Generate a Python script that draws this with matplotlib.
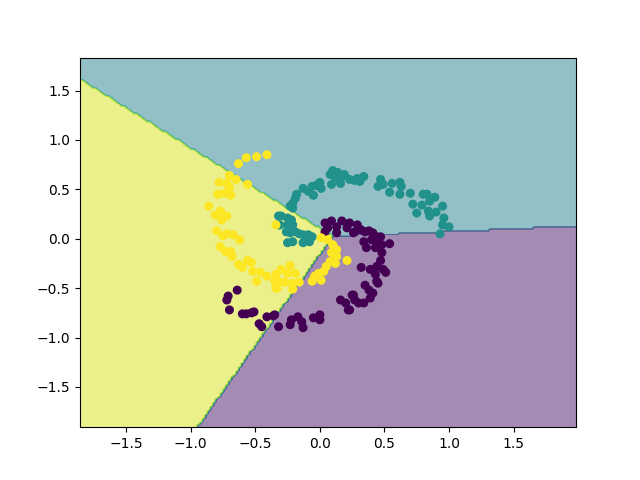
#!/usr/bin/env python3
# -*- coding: utf-8 -*-

'''Linear classifier decision regions on the 3-class spiral data.'''

##-Imports
import numpy as np
import matplotlib
matplotlib.use('Agg')
import matplotlib.pyplot as plt


##-Data
# class 0 (purple)
x0 = [-0.64, -0.71, -0.72, -0.70, -0.60, -0.57, -0.53, -0.51, -0.41, -0.36, -0.47, -0.45,
      0.04, 0.09, 0.17, 0.23, 0.29, 0.06, 0.13, 0.21, 0.27, 0.32, 0.38, 0.44, 0.04, 0.13, 0.26,
      0.16, 0.20, 0.25, 0.27, 0.22, -0.35, -0.32, -0.22, -0.17, -0.14, -0.13, -0.05, 0.00, 0.00, -0.23,
      0.35, 0.41, 0.47, 0.34, 0.40, 0.44, 0.48, 0.54, 0.36, 0.43, 0.48, 0.47, 0.32, 0.39, 0.44, 0.49,
      0.51, 0.43, 0.44, 0.45, 0.35, 0.38, 0.41, 0.26, 0.30, 0.34, 0.39, 0.23]
y0 = [-0.52, -0.58, -0.62, -0.72, -0.76, -0.76, -0.75, -0.74, -0.79, -0.78, -0.86, -0.89,
      0.16, 0.18, 0.18, 0.16, 0.14, 0.11, 0.12, 0.11, 0.07, 0.09, 0.08, 0.02, 0.07, 0.06, 0.06,
      -0.62, -0.65, -0.57, -0.62, -0.72, -0.77, -0.89, -0.82, -0.79, -0.84, -0.90, -0.80, -0.77, -0.82, -0.87,
      0.07, 0.06, 0.02, -0.03, -0.01, -0.06, -0.06, -0.05, -0.09, -0.09, -0.14, -0.22, -0.29, -0.31, -0.28, -0.31,
      -0.34, -0.36, -0.43, -0.45, -0.47, -0.52, -0.55, -0.57, -0.65, -0.65, -0.60, -0.72]

# class 1 (teal)
x1 = [-0.32, -0.32, 0.10, 0.14, 0.08, 0.19, 0.12, 0.16, 0.23, 0.29, 0.09, 0.16, 0.00, -0.03,
      -0.06, 0.01, -0.13, -0.09, -0.05, -0.18, -0.19, -0.21, -0.21, -0.23, -0.30, -0.25, -0.22,
      -0.31, -0.25, -0.21, -0.26, -0.19, -0.16, -0.13, -0.06, -0.23, -0.09, -0.21, -0.25, -0.13, -0.08,
      0.27, 0.31, 0.34, 0.47, 0.45, 0.49, 0.56, 0.62, 0.63, 0.54, 0.62, 0.70, 0.80, 0.83, 0.89,
      0.72, 0.79, 0.85, 0.95, 0.75, 0.84, 0.90, 0.85, 0.96, 0.95, 1.00, 0.93]
y1 = [0.23, 0.14, 0.69, 0.67, 0.65, 0.65, 0.62, 0.61, 0.60, 0.61, 0.55, 0.56, 0.57, 0.54,
      0.53, 0.51, 0.51, 0.48, 0.44, 0.45, 0.41, 0.36, 0.31, 0.33, 0.23, 0.21, 0.19,
      0.14, 0.14, 0.14, 0.07, 0.07, 0.05, 0.04, 0.02, 0.06, 0.04, -0.03, -0.04, -0.04, -0.03,
      0.59, 0.58, 0.63, 0.60, 0.53, 0.55, 0.56, 0.57, 0.53, 0.47, 0.45, 0.46, 0.45, 0.45, 0.42,
      0.35, 0.34, 0.38, 0.33, 0.26, 0.28, 0.27, 0.23, 0.21, 0.14, 0.12, 0.05]

# class 2 (yellow)
x2 = [-0.63, -0.57, -0.49, -0.41, -0.70, -0.78, -0.65, -0.72, -0.70, -0.56, -0.79, -0.74, -0.69,
      -0.86, -0.77, -0.81, -0.72, -0.76, -0.80, -0.75, -0.72, -0.67, -0.62, -0.77, -0.73, -0.69,
      -0.68, -0.63, -0.60, -0.56, -0.53, -0.52, -0.46, -0.41, -0.49, -0.35, -0.33, -0.34,
      0.01, 0.06, 0.10, 0.13, 0.09, 0.13, 0.08, 0.12, 0.21, 0.05, 0.03, -0.01, -0.04, 0.01, -0.06,
      -0.23, -0.30, -0.25, -0.19, -0.34, -0.32, -0.27, -0.21, -0.16, -0.34, -0.21]
y2 = [0.76, 0.82, 0.83, 0.85, 0.64, 0.57, 0.60, 0.56, 0.52, 0.55, 0.45, 0.46, 0.44,
      0.33, 0.28, 0.24, 0.23, 0.19, 0.08, 0.03, 0.05, 0.04, -0.01, -0.08, -0.13, -0.13,
      -0.18, -0.26, -0.29, -0.22, -0.24, -0.33, -0.34, -0.38, -0.43, -0.43, -0.50, 0.14,
      0.01, -0.01, -0.06, -0.11, -0.14, -0.18, -0.23, -0.25, -0.22, -0.28, -0.33, -0.35, -0.38, -0.42, -0.43,
      -0.27, -0.31, -0.35, -0.35, -0.36, -0.43, -0.44, -0.45, -0.44, -0.50, -0.51]

# estimated weights of the linear classifier (columns: class 0, 1, 2)
W = [[0.0, -0.086, -0.900],
     [0.0, 1.487, 0.487]]
b = [0.0, -0.026, 0.075]

x_min, x_max = -1.857, 1.99
y_min, y_max = -1.907, 1.84
h = 0.02


##-Main
X = np.column_stack([np.concatenate([x0, x1, x2]), np.concatenate([y0, y1, y2])])
y = np.concatenate([np.zeros(len(x0)), np.ones(len(x1)), 2 * np.ones(len(x2))])

xx, yy = np.meshgrid(np.arange(x_min, x_max, h), np.arange(y_min, y_max, h))
scores = np.c_[xx.ravel(), yy.ravel()] @ np.array(W) + np.array(b)
Z = np.argmax(scores, axis=1).reshape(xx.shape)

fig = plt.figure(figsize=(6.4, 4.8), dpi=100)
plt.contourf(xx, yy, Z, cmap=plt.cm.viridis, alpha=0.5)
plt.scatter(X[:, 0], X[:, 1], c=y, s=30, cmap=plt.cm.viridis)
plt.xlim(xx.min(), xx.max())
plt.ylim(yy.min(), yy.max())

fig.savefig('out.png')
